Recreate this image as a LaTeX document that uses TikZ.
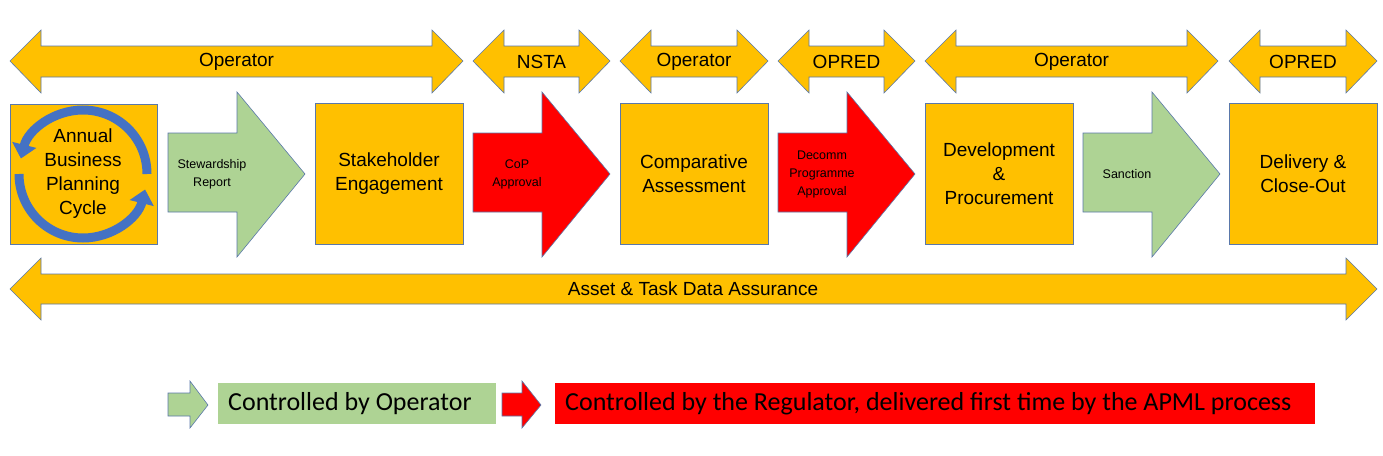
\documentclass[tikz,border=0pt]{standalone}
\usepackage{fontspec}
\setmainfont{Liberation Sans}
\newfontfamily\legendfont{Carlito}
\usetikzlibrary{arrows.meta}
\definecolor{ambr}{RGB}{255,192,0}
\definecolor{sage}{RGB}{174,211,148}
\definecolor{edgeblue}{RGB}{90,120,170}
\definecolor{cycblue}{RGB}{68,114,196}
\tikzset{
  amber/.style={fill=ambr, draw=edgeblue, line width=0.6pt},
  gate/.style={fill=sage, draw=edgeblue, line width=0.6pt},
  stop/.style={fill=red, draw=edgeblue, line width=0.6pt},
  lbl/.style={font=\fontsize{19}{24}\selectfont, align=center},
  small/.style={font=\fontsize{12.5}{18}\selectfont, align=center},
  key/.style={anchor=west, minimum height=41pt, inner sep=10pt, font=\legendfont\fontsize{26}{28}\selectfont}
}
\begin{document}
\begin{tikzpicture}[x=1pt,y=1pt,yscale=-1]
\useasboundingbox (0,0) rectangle (1383,455);

% Top row of owners
\foreach \xa/\xb/\who/\nm in {10/463/Operator/ownA, 473/610/NSTA/ownB, 620/768/Operator/ownC, 778/915/OPRED/ownD, 925/1218/Operator/ownE, 1229/1377/OPRED/ownF}{
  \draw [amber] (\xa,61) -- (\xa+31,30) -- (\xa+31,46) -- (\xb-31,46) -- (\xb-31,30) -- (\xb,61)
    -- (\xb-31,93) -- (\xb-31,77) -- (\xa+31,77) -- (\xa+31,93) -- cycle;
  \node [lbl] (\nm) at ({(\xa+\xb)/2},62) {\who};
}

% Stage boxes
\draw [amber] (10,104) rectangle (157,244);
\draw [line width=9pt, cycblue, -{Triangle[width=24pt,length=14pt]}] (83+64,174) arc (0:-166:64);
\draw [line width=9pt, cycblue, -{Triangle[width=24pt,length=14pt]}] (83-64,174) arc (-180:-346:64);
\node [lbl, text width=140pt] (cycle) at (83,174) {Annual\\Business\\Planning\\Cycle};

\foreach \xa/\txt/\nm in {315/Stakeholder\\Engagement/stake, 620/Comparative\\Assessment/compare, 925/Development\\\&\\Procurement/develop, 1229/Delivery \&\\Close-Out/deliver}{
  \draw [amber] (\xa,103) rectangle (\xa+148,244);
  \node [lbl] (\nm) at (\xa+74,174) {\txt};
}

% Gates
\foreach \xa/\sty/\txt/\nm in {168/gate/Stewardship\\Report/steward, 473/stop/CoP\\Approval/cop, 778/stop/Decomm\\Programme\\Approval/decomm, 1083/gate/Sanction/sanction}{
  \draw [\sty] (\xa,133) -- (\xa+69,133) -- (\xa+69,92) -- (\xa+137,174) -- (\xa+69,257) -- (\xa+69,212) -- (\xa,212) -- cycle;
  \node [small] (\nm) at (\xa+44,174) {\txt};
}

% Bottom band
\draw [amber] (10,289) -- (41,258) -- (41,274) -- (1346,274) -- (1346,258) -- (1377,289)
  -- (1346,320) -- (1346,304) -- (41,304) -- (41,320) -- cycle;
\node [lbl] (assure) at (693,289) {Asset \& Task Data Assurance};

% Legend
\draw [gate] (168,393) -- (190,393) -- (190,381) -- (208,405) -- (190,428) -- (190,416) -- (168,416) -- cycle;
\fill [sage] (218,383) rectangle (496,424);
\node [key] (keyop) at (218,404) {Controlled by Operator};
\draw [stop] (502,393) -- (522,393) -- (522,381) -- (541,405) -- (522,428) -- (522,416) -- (502,416) -- cycle;
\fill [red] (555,383) rectangle (1315,424);
\node [key] (keyreg) at (555,404) {Controlled by the Regulator, delivered first time by the APML process};
\end{tikzpicture}
\end{document}
